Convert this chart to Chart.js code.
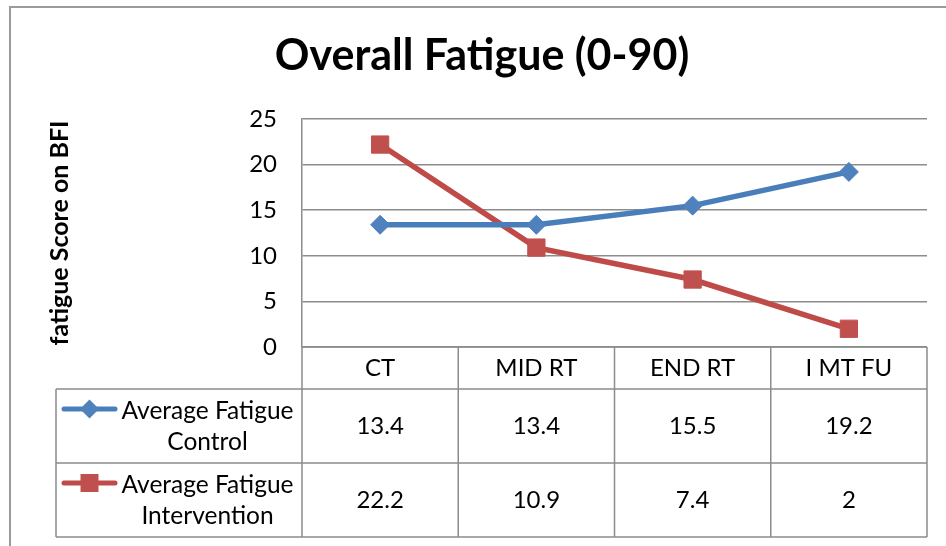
<!DOCTYPE html>
<html>
<head>
<meta charset="utf-8">
<script src="https://cdn.jsdelivr.net/npm/chart.js@4.4.0/dist/chart.umd.min.js"></script>
<style>
  html, body { margin: 0; padding: 0; background: #fff; }
  #wrap { width: 946px; height: 546px; }
</style>
</head>
<body>
<div id="wrap"><canvas id="chart_Fatigue" width="946" height="546"></canvas></div>
<script>
// data
const categories = ['CT', 'MID RT', 'END RT', 'I MT FU'];
const controlValues = [13.4, 13.4, 15.5, 19.2];
const interventionValues = [22.2, 10.9, 7.4, 2];
const seriesNames = ['Average Fatigue Control', 'Average Fatigue Intervention'];
const yTicks = [0, 5, 10, 15, 20, 25];

const gridColor = '#8c8c8c';
const blue = '#4A7EBB';
const red = '#BE4B48';
const fontFamily = 'Lato, "Open Sans", sans-serif';

// white page + the outer frame of the chart object
const framePlugin = {
  id: 'frame',
  beforeDraw(chart) {
    const ctx = chart.ctx;
    ctx.save();
    ctx.fillStyle = '#fff';
    ctx.fillRect(0, 0, chart.width, chart.height);
    ctx.strokeStyle = '#9a9a9a';
    ctx.lineWidth = 2;
    ctx.beginPath();
    ctx.moveTo(10, chart.height);
    ctx.lineTo(10, 7);
    ctx.lineTo(chart.width, 7);
    ctx.stroke();
    ctx.restore();
  }
};

function drawMarker(ctx, style, cx, cy, color) {
  ctx.fillStyle = color;
  ctx.beginPath();
  if (style === 'rectRot') {
    const r = 9.5;
    ctx.moveTo(cx, cy - r);
    ctx.lineTo(cx + r, cy);
    ctx.lineTo(cx, cy + r);
    ctx.lineTo(cx - r, cy);
    ctx.closePath();
  } else {
    ctx.rect(cx - 9, cy - 9, 18, 18);
  }
  ctx.fill();
}

// data table under the plot, columns follow the x scale
const tablePlugin = {
  id: 'dataTable',
  afterDraw(chart) {
    const ctx = chart.ctx;
    const x = chart.scales.x;
    const y = chart.scales.y;
    const n = categories.length;
    const colW = (x.right - x.left) / n;
    const top = y.bottom;
    const headH = 42, rowH = 74, legLeft = 56;
    const rowsTop = top + headH;
    const sets = chart.data.datasets;
    const bottom = rowsTop + rowH * sets.length;

    ctx.save();
    ctx.strokeStyle = gridColor;
    ctx.lineWidth = 1.5;
    ctx.beginPath();
    ctx.moveTo(x.left, top); ctx.lineTo(x.right, top);
    for (let r = 0; r <= sets.length; r++) {
      const yy = rowsTop + r * rowH;
      ctx.moveTo(legLeft, yy); ctx.lineTo(x.right, yy);
    }
    for (let c = 0; c <= n; c++) {
      const xx = x.left + c * colW;
      ctx.moveTo(xx, top); ctx.lineTo(xx, bottom);
    }
    ctx.moveTo(legLeft, rowsTop); ctx.lineTo(legLeft, bottom);
    ctx.stroke();

    ctx.fillStyle = '#000';
    ctx.font = '24px ' + fontFamily;
    ctx.textAlign = 'center';
    ctx.textBaseline = 'middle';
    categories.forEach((lab, i) => {
      ctx.fillText(lab, x.getPixelForValue(i), top + headH / 2);
    });

    sets.forEach((ds, r) => {
      const rt = rowsTop + r * rowH;
      // legend key
      ctx.strokeStyle = ds.borderColor;
      ctx.lineWidth = 5;
      ctx.lineCap = 'round';
      ctx.beginPath();
      ctx.moveTo(64, rt + 20); ctx.lineTo(115, rt + 20);
      ctx.stroke();
      drawMarker(ctx, ds.pointStyle, 89.5, rt + 20, ds.pointBackgroundColor);
      // name on two lines
      const words = ds.label.split(' ');
      ctx.fillStyle = '#000';
      ctx.font = '24.5px ' + fontFamily;
      ctx.fillText(words.slice(0, 2).join(' '), 207.5, rt + 22);
      ctx.fillText(words.slice(2).join(' '), 207.5, rt + 53);
      // values
      ctx.font = '24px ' + fontFamily;
      ds.data.forEach((v, i) => {
        ctx.fillText(String(v), x.getPixelForValue(i), rt + rowH / 2);
      });
    });
    ctx.restore();
  }
};

const ctx = document.getElementById('chart_Fatigue');

new Chart(ctx, {
  type: 'line',
  data: {
    labels: categories,
    datasets: [
      {
        label: seriesNames[0],
        data: controlValues,
        borderColor: blue,
        borderWidth: 5.5,
        pointStyle: 'rectRot',
        pointRadius: 9.5,
        pointBorderWidth: 1,
        pointBackgroundColor: '#4F81BD',
        pointBorderColor: '#4F81BD',
        tension: 0,
        fill: false
      },
      {
        label: seriesNames[1],
        data: interventionValues,
        borderColor: red,
        borderWidth: 5.5,
        pointStyle: 'rect',
        pointRadius: 12.2,
        pointBorderWidth: 1,
        pointBackgroundColor: '#C0504D',
        pointBorderColor: '#C0504D',
        tension: 0,
        fill: false
      }
    ]
  },
  options: {
    responsive: false,
    animation: false,
    layout: {
      padding: { left: 37, right: 19, top: 0, bottom: 199 }
    },
    scales: {
      x: {
        type: 'category',
        display: false,
        offset: true
      },
      y: {
        min: 0,
        max: 25,
        afterBuildTicks: (scale) => {
          scale.ticks = yTicks.map(v => ({ value: v }));
        },
        afterFit: (scale) => {
          scale.width = 265;
        },
        grid: {
          color: gridColor,
          lineWidth: 1.5,
          drawTicks: false
        },
        border: {
          display: true,
          color: gridColor,
          width: 1.5
        },
        ticks: {
          padding: 25,
          color: '#000',
          font: { family: fontFamily, size: 24 }
        },
        title: {
          display: true,
          text: 'fatigue Score on BFI',
          color: '#000',
          padding: { top: 8, bottom: 0 },
          font: { family: fontFamily, size: 25, weight: 'bold' }
        }
      }
    },
    plugins: {
      legend: { display: false },
      tooltip: { enabled: false },
      title: {
        display: true,
        text: 'Overall Fatigue (0-90)',
        color: '#000',
        padding: { top: 30, bottom: 37.4 },
        font: { family: fontFamily, size: 43, weight: 'bold', lineHeight: 1.2 }
      }
    }
  },
  plugins: [framePlugin, tablePlugin]
});
</script>
</body>
</html>
